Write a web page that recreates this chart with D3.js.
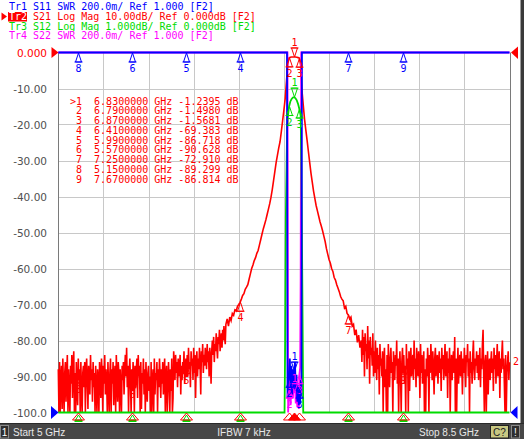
<!DOCTYPE html>
<html><head><meta charset="utf-8">
<script src="https://cdn.jsdelivr.net/npm/d3@7"></script>
<style>
html,body{margin:0;padding:0;background:#fff;overflow:hidden}
svg{display:block}
text{font-family:"DejaVu Sans Mono",monospace;white-space:pre}
</style></head><body>
<svg id="c" width="524" height="439"></svg>
<script>
// ---------------- DATA ----------------
const traceTitles = [
  "Tr1 S11 SWR 200.0m/ Ref 1.000 [F2]",
  "Tr2 S21 Log Mag 10.00dB/ Ref 0.000dB [F2]",
  "Tr3 S12 Log Mag 1.000dB/ Ref 0.000dB [F2]",
  "Tr4 S22 SWR 200.0m/ Ref 1.000 [F2]"
];
const yTickValues = [0,-10,-20,-30,-40,-50,-60,-70,-80,-90,-100];
const yTickLabels = ["0.000","-10.00","-20.00","-30.00","-40.00","-50.00","-60.00","-70.00","-80.00","-90.00","-100.0"];
const startGHz = 5.0, stopGHz = 8.5;
const statusStart = "Start 5 GHz", statusIfbw = "IFBW 7 kHz", statusStop = "Stop 8.5 GHz";

const markerNums  = [1,2,3,4,5,6,7,8,9];
const markerFreqs = [6.83,6.79,6.87,6.41,5.99,5.57,7.25,5.15,7.67];
const s21MarkerDb = [-1.2395,-1.4980,-1.5681,-69.383,-86.718,-90.628,-72.910,-89.299,-86.814];
const s12MarkerDb = [-1.24,-1.50,-1.57,-69.4,-86.7,-90.6,-72.9,-89.3,-86.8];
const s11MarkerSwr = [1.23,1.19,1.13,30,30,30,30,30,30];
const s22MarkerSwr = [1.11,1.13,1.21,30,30,30,30,30,30];

// S21 (Tr2) measured trace, left noise floor: 5.000 GHz .. 6.295 GHz, 5 MHz steps
const s21LeftStart = 5.0, s21NoiseStep = 0.005;
const s21LeftNoise = [
-88,-100,-86,-104,-91,-87,-99,-85,-93,-102,-89,-86,-97,-90,-84,-103,-88,-94,-101,-87,
-92,-84,-96,-87,-83,-101,-89,-103,-86,-93,-98,-85,-91,-88,-100,-86,-95,-104,-89,-87,
-93,-86,-102,-88,-85,-92,-99,-87,-90,-95,-84,-91,-88,-97,-86,-93,-89,-101,-87,-94,
-105,-88,-91,-103,-86,-90,-96,-85,-89,-100,-87,-92,-84,-95,-88,-91,-104,-86,-93,-102,
-89,-85,-101,-88,-92,-86,-98,-90,-87,-103,-84,-91,-97,-86,-89,-103,-88,-93,-100,-87,
-91,-86,-95,-88,-84,-90,-82,-93,-87,-101,-89,-85,-92,-101,-88,-94,-86,-90,-104,-87,
-93,-88,-85,-96,-84,-90,-87,-102,-86,-99,-89,-92,-85,-95,-88,-100,-86,-93,-97,-89,
-87,-94,-90,-104,-86,-101,-92,-88,-103,-85,-95,-89,-91,-86,-102,-88,-93,-85,-90,-96,
-88,-92,-86,-95,-89,-85,-102,-90,-87,-104,-93,-86,-91,-100,-88,-94,-85,-101,-96,-83,
-87,-91,-84,-89,-86,-93,-85,-90,-88,-84,-95,-87,-91,-86,-89,-83,-92,-88,-85,-90,
-84,-90,-82,-88,-86,-93,-83,-87,-85,-91,-82,-89,-84,-96,-86,-83,-90,-85,-88,-82,
-87,-95,-83,-86,-81,-89,-84,-87,-82,-85,-88,-81,-86,-83,-90,-82,-85,-92,-83,-80,
-84,-79,-86,-81,-83,-78,-82,-85,-79,-81,-77,-83,-80,-78,-82,-77,-80,-76,-79,-81
];
// S21 filter skirts and passband: 6.30 GHz .. 7.34 GHz, 10 MHz steps
const s21SkirtStart = 6.30, s21SkirtStep = 0.01;
const s21Skirt = [
-75.5,-74,-76,-73.5,-74.5,-72.5,-73,-71.5,-71.8,-70.5,-70,
-69.383,-68.5,-67.5,-67,-65.8,-65.2,-64.5,-63,-61.5,-60,-59,-57.8,-57,-55.8,-55,
-53.5,-52,-50.5,-49,-47.8,-46.5,-45,-43.5,-42,-40.2,-38,-35.5,-33,-30.5,-28.5,
-26.5,-24.8,-22,-19,-16,-12.8,-8,-3.2,
-1.498,-1.30,-1.27,-1.25,-1.2395,-1.26,-1.32,-1.42,-1.5681,
-3.5,-10.5,-14.5,-18.5,-21.5,-24.4,-27.5,-30.5,-33.5,-36,-38.5,-40.5,-42.5,-44,
-45.5,-47,-48.2,-49.5,-51,-52.5,-54.5,-56,-57.5,-58.5,-60,-60.8,-62.5,-63.2,-64.5,
-65.5,-66.5,-67.8,-68.5,-69,-71,-70.5,-72.5,-72.91,-74,-73.5,-76,-75.5,-78.5,-77,
-80.5,-78.5,-82
];
// S21 right noise floor: 7.350 GHz .. 8.500 GHz, 5 MHz steps
const s21RightStart = 7.35;
const s21RightNoise = [
-80,-86,-77,-84,-79,-90,-78,-83,-81,-88,-76,-85,-80,-92,-79,-84,-82,-87,-78,-90,
-83,-89,-80,-86,-91,-82,-88,-84,-95,-81,-87,-85,-90,-83,-104,-86,-82,-93,-88,-101,
-84,-100,-81,-87,-93,-85,-82,-89,-86,-102,-83,-88,-91,-84,-87,-80,-92,-85,-103,-88,
-83,-90,-105,-86,-82,-89,-84,-92,-87,-100,-81,-88,-85,-101,-83,-94,-86,-82,-90,-87,
-84,-91,-80,-88,-85,-93,-82,-87,-90,-83,-86,-96,-81,-89,-84,-92,-87,-83,-102,-88,
-104,-85,-90,-82,-87,-100,-84,-89,-81,-86,-91,-83,-88,-95,-85,-82,-90,-86,-84,-92,
-87,-83,-89,-85,-94,-82,-88,-84,-91,-86,-81,-90,-87,-83,-96,-85,-89,-82,-103,-88,
-84,-91,-86,-83,-89,-79,-104,-85,-100,-88,-82,-92,-86,-84,-90,-83,-87,-95,-85,-89,
-82,-88,-93,-84,-86,-81,-90,-85,-101,-83,-89,-86,-92,-84,-80,-88,-91,-85,-87,-83,
-89,-84,-91,-86,-82,-93,-85,-88,-81,-77,-90,-103,-86,-84,-100,-89,-83,-95,-87,-85,
-91,-86,-83,-89,-85,-94,-82,-88,-84,-92,-86,-81,-90,-87,-83,-96,-85,-89,-84,-80,
-88,-85,-92,-104,-84,-101,-89,-86,-83,-91,-86
];
// S12 (Tr3) Log Mag, 1 dB/div
const s12Freq = [5.00,6.70,6.755,6.760,6.765,6.775,6.780,6.790,6.800,6.810,6.820,6.830,6.840,6.850,6.860,6.870,6.880,6.886,6.895,6.900,6.950,8.50];
const s12Db   = [-90,-30,-15,-8.0,-4.6,-2.1,-1.8,-1.50,-1.36,-1.29,-1.25,-1.24,-1.27,-1.33,-1.43,-1.57,-1.75,-3.2,-7.5,-13,-30,-87];
// S11 (Tr1) SWR
const s11Freq = [5.00,6.774,6.778,6.784,6.790,6.796,6.802,6.808,6.814,6.820,6.826,6.830,6.836,6.842,6.848,6.854,6.860,6.866,6.870,6.876,6.882,6.886,6.890,8.50];
const s11Swr  = [20,9,1.08,1.22,1.19,1.30,1.14,1.26,1.10,1.24,1.13,1.23,1.28,1.12,1.21,1.06,1.15,1.04,1.13,1.05,1.18,1.10,9,20];
// S22 (Tr4) SWR
const s22Freq = [5.00,6.778,6.781,6.783,6.788,6.790,6.796,6.802,6.808,6.814,6.820,6.826,6.830,6.836,6.842,6.848,6.854,6.860,6.866,6.870,6.876,6.880,6.884,8.50];
const s22Swr  = [20,9,1.70,1.00,1.12,1.13,1.19,1.04,1.15,1.22,1.08,1.17,1.11,1.16,1.05,1.12,1.03,1.09,1.02,1.21,1.25,1.75,9,20];

// ---------------- CHART ----------------
(function(){
const C = {blue:"#0000ff", red:"#ff0000", green:"#00dc00", mag:"#ff00ff", grid:"#c8c8c8", axis:"#7a7a7a", lab:"#505050"};
const svg = d3.select("#c");
const gTop = 52.5, gBot = 412.5, gLeft = 58.5, gRight = 510.5;

const x = d3.scaleLinear().domain([startGHz, stopGHz]).range([58.3, 509.5]);
const yDb = d3.scaleLinear().domain([-100, 0]).range([gBot, gTop]).clamp(true);
const yS12 = d3.scaleLinear().domain([-10, 0]).range([gBot, gTop]).clamp(true);
const ySwr = d3.scaleLinear().domain([1, 3]).range([gBot, gTop]).clamp(true);

svg.append("rect").attr("x",520.5).attr("y",0).attr("width",4).attr("height",424).attr("fill","#3a3a3a");

// grid
const gx = d3.range(1,10).map(k => startGHz + k*(stopGHz-startGHz)/10);
svg.append("g").selectAll("line").data(gx).join("line")
  .attr("x1", d => Math.round(x(d))+0.5).attr("x2", d => Math.round(x(d))+0.5)
  .attr("y1", gTop).attr("y2", gBot).attr("stroke", C.grid).attr("stroke-width",1);
svg.append("g").selectAll("line").data(yTickValues.slice(1,-1)).join("line")
  .attr("x1", gLeft).attr("x2", gRight)
  .attr("y1", d => Math.round(yDb(d))+0.5).attr("y2", d => Math.round(yDb(d))+0.5)
  .attr("stroke", C.grid).attr("stroke-width",1);
svg.append("line").attr("x1",gLeft).attr("x2",gLeft).attr("y1",gTop).attr("y2",gBot).attr("stroke",C.axis);
svg.append("line").attr("x1",gRight).attr("x2",gRight).attr("y1",gTop).attr("y2",gBot).attr("stroke",C.axis);

// y tick labels
svg.append("g").selectAll("text").data(yTickValues).join("text")
  .attr("x", 47).attr("y", d => yDb(d)+4)
  .attr("text-anchor","end")
  .style("font-family","'DejaVu Sans',sans-serif").style("font-size","10.5px")
  .attr("fill", (d,i) => i===0 ? C.red : C.lab)
  .text((d,i) => yTickLabels[i]);

// titles
const tg = svg.append("g").style("font-size","10px");
const titleColors = [C.blue, C.red, C.green, C.mag];
tg.append("rect").attr("x",8).attr("y",12).attr("width",19).attr("height",9.5).attr("fill",C.red);
tg.append("path").attr("d","M1.5,12.5 L7,16.5 L1.5,20.5 Z").attr("fill",C.red);
traceTitles.forEach((t,i) => {
  const tx = tg.append("text").attr("x",9).attr("y",10+i*9.8);
  if (i===1) {
    tx.append("tspan").attr("fill","#fff").text(t.slice(0,3));
    tx.append("tspan").attr("fill",titleColors[i]).text(t.slice(3));
  } else tx.attr("fill",titleColors[i]).text(t);
});

// marker table
const tab = svg.append("g").style("font-size","10px").attr("fill",C.red);
markerNums.forEach((n,i) => {
  const s = (i===0?">":" ") + n + "  " + markerFreqs[i].toFixed(7) + " GHz " + s21MarkerDb[i].toPrecision(5) + " dB";
  tab.append("text").attr("x",70).attr("y",104.5+i*9.75).text(s);
});

// traces
const s21 = [];
s21LeftNoise.forEach((v,i) => s21.push([s21LeftStart + i*s21NoiseStep, v]));
s21Skirt.forEach((v,i) => s21.push([s21SkirtStart + i*s21SkirtStep, v]));
s21RightNoise.forEach((v,i) => s21.push([s21RightStart + i*s21NoiseStep, v]));

function drawTrace(pts, ys, color, w) {
  svg.append("path").datum(pts)
    .attr("d", d3.line().x(d => x(d[0])).y(d => ys(d[1])))
    .attr("fill","none").attr("stroke",color).attr("stroke-width",w).attr("stroke-linejoin","miter");
}
drawTrace(s21, yDb, C.red, 1.6);
drawTrace(s22Freq.map((f,i)=>[f,s22Swr[i]]), ySwr, C.mag, 1.8);
drawTrace(s12Freq.map((f,i)=>[f,s12Db[i]]), yS12, C.green, 1.8);
drawTrace(s11Freq.map((f,i)=>[f,s11Swr[i]]), ySwr, C.blue, 1.8);

// markers
const mg = svg.append("g").style("font-size","10px");
function mk(f, yA, up, label, color) {
  const xx = Math.round(x(f)) + 0.5;
  const h = up ? 9 : -9;
  mg.append("path")
    .attr("d", `M${xx},${yA} L${xx-3},${yA+h} L${xx+3},${yA+h} Z M${xx-4},${yA+h} L${xx+4},${yA+h}`)
    .attr("fill","none").attr("stroke", color).attr("stroke-width",1);
  mg.append("text").attr("x", xx).attr("y", up ? yA+19 : yA-11)
    .attr("text-anchor","middle").attr("fill",color).text(label);
}
markerNums.forEach((n,i) => {
  mk(markerFreqs[i], yDb(s21MarkerDb[i]), i!==0, String(n), C.red);
  if (s12MarkerDb[i] > -10) mk(markerFreqs[i], yS12(s12MarkerDb[i]), i!==0, String(n), C.green);
  if (s22MarkerSwr[i] < 3) mk(markerFreqs[i], ySwr(s22MarkerSwr[i]), i!==0, String(n), C.mag);
  if (s11MarkerSwr[i] < 3) mk(markerFreqs[i], ySwr(s11MarkerSwr[i]), i!==0, String(n), C.blue);
  else mk(markerFreqs[i], 53, true, String(n), C.blue);
});

// stimulus indicators below the grid
const bg = svg.append("g");
markerNums.forEach((n,i) => {
  const xx = Math.round(x(markerFreqs[i])) + 0.5;
  if (s12MarkerDb[i] <= -10) {
    bg.append("path").attr("d",`M${xx},415 L${xx-3},420 L${xx+3},420 Z`).attr("fill","none").attr("stroke",C.green);
    bg.append("rect").attr("x",xx-4).attr("y",420).attr("width",8).attr("height",2).attr("fill",C.green);
  }
  bg.append("path").attr("d",`M${xx},413 L${xx-6},420 L${xx+6},420 Z`)
    .attr("fill", i===0 ? C.red : "none").attr("stroke",C.red).attr("stroke-width",1);
});

// reference level indicators
svg.append("path").attr("d",`M51.5,47 L58.5,${gTop} L51.5,58 Z`).attr("fill",C.red);
svg.append("path").attr("d",`M518,46.5 L511,${gTop} L518,59 Z`).attr("fill",C.red);
svg.append("path").attr("d",`M51,406 L58.5,${gBot} L51,419 Z`).attr("fill",C.blue);
svg.append("path").attr("d",`M517.5,406 L510.5,${gBot} L517.5,419 Z`).attr("fill",C.blue);
svg.append("text").attr("x",513).attr("y",364.5).style("font-size","10px").attr("fill",C.red).text("2");

// status bar
const sb = svg.append("g");
sb.append("rect").attr("x",0).attr("y",423).attr("width",524).attr("height",16).attr("fill","#474747");
sb.append("line").attr("x1",0).attr("x2",524).attr("y1",423.5).attr("y2",423.5).attr("stroke","#2a2a2a");
sb.append("rect").attr("x",0.5).attr("y",425.5).attr("width",8).attr("height",12.5).attr("fill","#2e2e2e").attr("stroke","#8a8a8a");
sb.append("rect").attr("x",490.5).attr("y",425.5).attr("width",18).attr("height",12.5).attr("fill","#c8c882").attr("stroke","#202020");
sb.append("rect").attr("x",511.5).attr("y",425.5).attr("width",8).attr("height",12.5).attr("fill","#2e2e2e").attr("stroke","#8a8a8a");
const sf = "'Liberation Sans',Arial,sans-serif";
const st = (xp, anchor, col, txt) => sb.append("text").attr("x",xp).attr("y",435.5).attr("text-anchor",anchor)
  .style("font-family",sf).style("font-size","10px").attr("fill",col).text(txt);
st(4.5,"middle","#fff","1");
st(13,"start","#e8e8e8",statusStart);
st(244,"middle","#e8e8e8",statusIfbw);
st(479,"end","#e8e8e8",statusStop);
st(499.5,"middle","#202020","C?");
st(515.5,"middle","#fff","!");
})();
</script></body></html>
